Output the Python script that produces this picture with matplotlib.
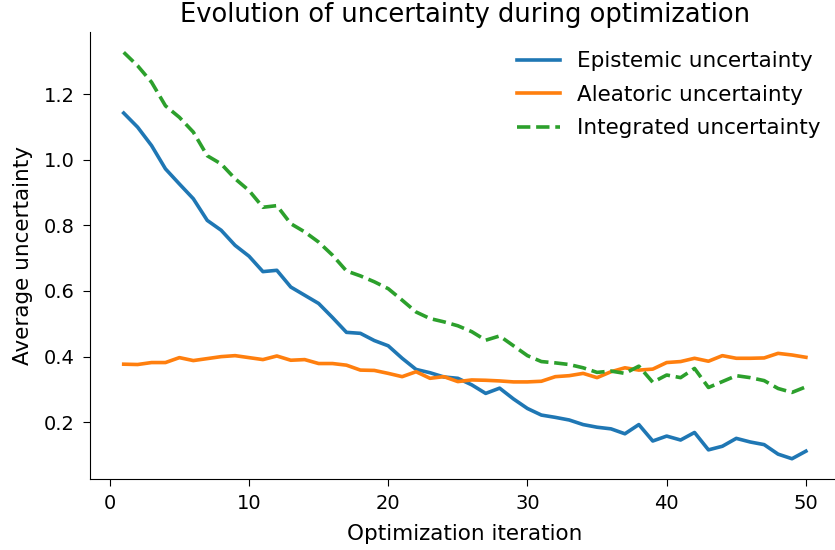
import matplotlib
matplotlib.use("Agg")
import matplotlib.pyplot as plt

iterations = list(range(1, 51))

epistemic = [1.142, 1.099, 1.043, 0.972, 0.926, 0.881, 0.815, 0.785, 0.739, 0.706,
             0.659, 0.663, 0.612, 0.587, 0.562, 0.519, 0.474, 0.471, 0.449, 0.433,
             0.395, 0.361, 0.351, 0.338, 0.334, 0.314, 0.288, 0.304, 0.271, 0.242,
             0.222, 0.215, 0.207, 0.193, 0.185, 0.180, 0.165, 0.193, 0.143, 0.158,
             0.146, 0.169, 0.116, 0.127, 0.151, 0.140, 0.132, 0.103, 0.089, 0.112]

aleatoric = [0.377, 0.376, 0.382, 0.382, 0.397, 0.388, 0.394, 0.400, 0.403, 0.397,
             0.391, 0.402, 0.389, 0.391, 0.379, 0.379, 0.374, 0.359, 0.358, 0.349,
             0.339, 0.354, 0.334, 0.339, 0.324, 0.329, 0.328, 0.326, 0.323, 0.323,
             0.325, 0.339, 0.342, 0.349, 0.336, 0.354, 0.366, 0.359, 0.362, 0.382,
             0.385, 0.395, 0.386, 0.403, 0.395, 0.395, 0.396, 0.410, 0.405, 0.398]

integrated = [1.327, 1.286, 1.236, 1.164, 1.129, 1.084, 1.012, 0.987, 0.942, 0.906,
              0.855, 0.860, 0.805, 0.780, 0.749, 0.709, 0.661, 0.646, 0.628, 0.607,
              0.572, 0.536, 0.516, 0.506, 0.494, 0.476, 0.450, 0.463, 0.433, 0.403,
              0.385, 0.381, 0.376, 0.366, 0.352, 0.356, 0.349, 0.371, 0.322, 0.344,
              0.336, 0.364, 0.306, 0.324, 0.342, 0.336, 0.327, 0.303, 0.291, 0.308]

fig = plt.figure(figsize=(8.35, 5.5), dpi=100)
# axes run slightly past the right edge, like the reference
ax = fig.add_axes([0.1073, 0.129, 0.8987, 0.8128])

ax.plot(iterations, epistemic, color="#1f77b4", lw=2.6, label="Epistemic uncertainty")
ax.plot(iterations, aleatoric, color="#ff7f0e", lw=2.6, label="Aleatoric uncertainty")
ax.plot(iterations, integrated, color="#2ca02c", lw=2.6, ls="--", label="Integrated uncertainty")

ax.set_title("Evolution of uncertainty during optimization", fontsize=18.5, pad=7)
ax.set_xlabel("Optimization iteration", fontsize=15.5, labelpad=8)
ax.set_ylabel("Average uncertainty", fontsize=15.5, labelpad=7.5)
ax.tick_params(labelsize=14, length=4.8, pad=6)
ax.set_xticks([0, 10, 20, 30, 40, 50])
ax.spines["top"].set_visible(False)
ax.spines["right"].set_visible(False)
ax.legend(loc="upper right", frameon=False, fontsize=15.5, labelspacing=0.62)

fig.savefig("out.png", dpi=100)
